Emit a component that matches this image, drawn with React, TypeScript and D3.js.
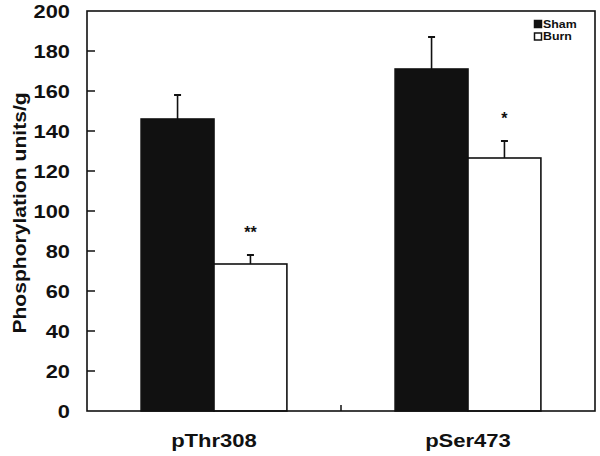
import React from "react";
import * as d3 from "d3";

const categories = ["pThr308", "pSer473"];
const seriesNames = ["Sham", "Burn"];
const shamValues = [146, 171];
const burnValues = [73.5, 126.5];
const shamErrors = [12, 16];
const burnErrors = [4.5, 8.5];
const significance = ["**", "*"];
const yTicks = [0, 20, 40, 60, 80, 100, 120, 140, 160, 180, 200];

const W = 600, H = 456;
const M = { left: 87, right: 5, top: 11, bottom: 45 };
const INK = "#111";
const FONT = "Arial, 'Liberation Sans', Helvetica, sans-serif";

export default function App() {
  const x = d3.scaleBand<string>().domain(categories).range([M.left, W - M.right]).paddingInner(0).paddingOuter(0);
  const y = d3.scaleLinear().domain([0, 200]).range([H - M.bottom, M.top]);
  const barW = x.bandwidth() * 0.287;
  const series = [
    { name: seriesNames[0], values: shamValues, errs: shamErrors, fill: INK },
    { name: seriesNames[1], values: burnValues, errs: burnErrors, fill: "#fff" },
  ];
  const x0 = M.left, x1 = W - M.right, y0 = y(0), y1 = y(200);
  return (
    <svg width={W} height={H} style={{ position: "absolute", left: 0, top: 0, background: "#fff" }} fontFamily={FONT}>
      <rect x={0} y={0} width={W} height={H} fill="#fff" />
      {categories.map((c, i) => {
        const cx = (x(c) as number) + x.bandwidth() / 2;
        return (
          <g key={c}>
            {series.map((s, j) => {
              const bx = cx - barW + j * barW;
              const top = y(s.values[i]);
              const et = y(s.values[i] + s.errs[i]);
              const mx = bx + barW / 2;
              return (
                <g key={s.name}>
                  <line x1={mx} x2={mx} y1={top} y2={et} stroke={INK} strokeWidth={1.6} />
                  <line x1={mx - 3.5} x2={mx + 3.5} y1={et} y2={et} stroke={INK} strokeWidth={2} />
                  <rect x={bx} y={top} width={barW} height={y0 - top} fill={s.fill} stroke={INK} strokeWidth={1.6} />
                </g>
              );
            })}
            <text x={cx + barW / 2} y={y(burnValues[i] + burnErrors[i]) - 17} textAnchor="middle" fontSize={16} fontWeight="bold" fill={INK}>
              {significance[i]}
            </text>
            <text transform={`translate(${cx},447) scale(1.16,1)`} textAnchor="middle" fontSize={19} fontWeight="bold" fill={INK}>{c}</text>
          </g>
        );
      })}
      {/* frame */}
      <rect x={x0} y={y1} width={x1 - x0} height={y0 - y1} fill="none" stroke={INK} strokeWidth={1.6} />
      {/* y ticks */}
      {yTicks.map((t) => (
        <g key={t}>
          {t > 0 && t < 200 && <line x1={x0} x2={x0 + 8} y1={y(t)} y2={y(t)} stroke={INK} strokeWidth={1.5} />}
          <text transform={`translate(70,${y(t)}) scale(1.18,1)`} dy="0.36em" textAnchor="end" fontSize={18.5} fontWeight="bold" fill={INK}>{t}</text>
        </g>
      ))}
      {/* middle x tick */}
      <line x1={x(categories[1]) as number} x2={x(categories[1]) as number} y1={y0} y2={y0 - 6} stroke={INK} strokeWidth={1.5} />
      {/* y title */}
      <text transform={`translate(26,${(y0 + y1) / 2 + 2}) rotate(-90) scale(1.14,1)`} textAnchor="middle" fontSize={18.5} fontWeight="bold" fill={INK}>
        Phosphorylation units/g
      </text>
      {/* legend */}
      {series.map((s, j) => (
        <g key={s.name}>
          <rect x={534.5} y={20.5 + j * 12.5} width={7} height={7} fill={s.fill} stroke={INK} strokeWidth={1.5} />
          <text transform={`translate(543,${27.5 + j * 12.5}) scale(1.18,1)`} fontSize={10.5} fontWeight="bold" fill={INK}>{s.name}</text>
        </g>
      ))}
    </svg>
  );
}
